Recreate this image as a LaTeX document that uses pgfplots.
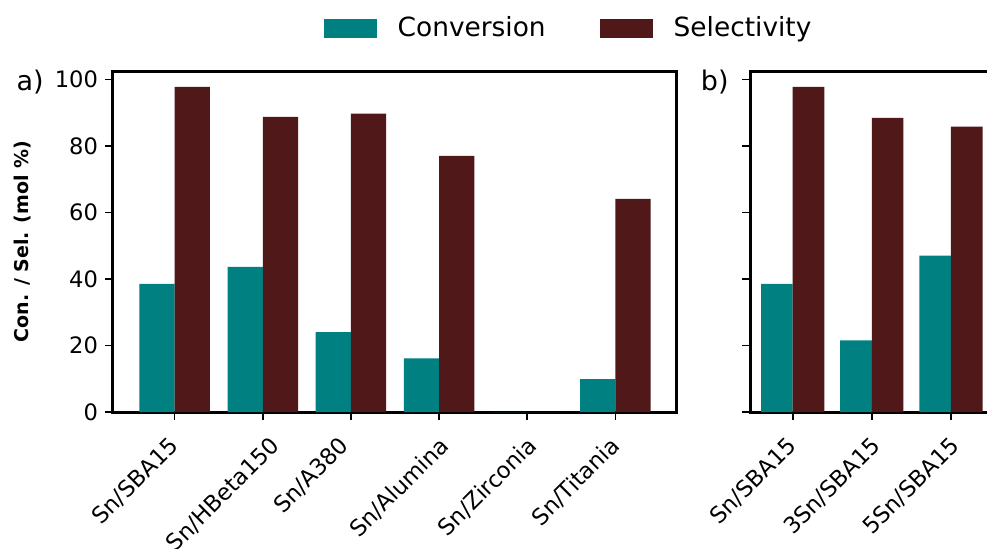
\documentclass[border=0pt]{standalone}
\usepackage{fontspec}
\setmainfont{DejaVu Sans}
\usepackage{graphicx}
\usepackage{pgfplots}
\usepackage{pgfplotstable}
\pgfplotsset{compat=1.18}

\definecolor{conv}{HTML}{008080}
\definecolor{sel}{HTML}{501818}

% Panel a: tin on different supports
\pgfplotstableread{
x conv sel
0 38.5 97.7
1 43.6 88.7
2 24.0 89.7
3 16.1 77.0
4 0.0 0.0
5 9.9 64.1
}\supports

% Panel b: tin loading on SBA15
\pgfplotstableread{
x conv sel
0 38.5 97.7
1 21.5 88.4
2 47.0 85.8
}\loading

% rotated category label, boxed so that its frame is the rotated box
\newcommand{\rl}[1]{\rotatebox{45}{\strut #1}}

\pgfplotsset{
  panel/.style={
    scale only axis,
    height=170.5pt,
    ymin=0, ymax=102.5,
    ytick={0,20,40,60,80,100},
    axis line style={line width=1.5pt},
    tick style={line width=0.8pt, black},
    tick align=outside,
    major tick length=4pt,
    xtick pos=bottom, ytick pos=left,
    xtick=data,
    tick label style={font=\fontsize{11.3}{13}\selectfont},
    /pgf/number format/assume math mode=true,
    xticklabel style={anchor=north, inner sep=0pt, xshift=-19pt, yshift=-7pt},
    bar width=0.4,
    clip=false,
  },
  convbar/.style={ybar, bar shift=-0.2, fill=conv, draw=none},
  selbar/.style={ybar, bar shift=0.2, fill=sel, draw=none},
}

\begin{document}
\begin{tikzpicture}
\begin{axis}[panel,
  at={(56.5pt,-206pt)}, anchor=south west,
  width=282pt,
  xmin=-0.7, xmax=5.7,
  xticklabels={{\rl{Sn/SBA15}},{\rl{Sn/HBeta150}},{\rl{Sn/A380}},{\rl{Sn/Alumina}},{\rl{Sn/Zirconia}},{\rl{Sn/Titania}}},
  ylabel={\bfseries Con. / Sel. (mol \%)},
  ylabel style={font=\fontsize{9.5}{11}\selectfont, at={(axis description cs:-0.161,0.5)}, anchor=center},
  legend columns=2,
  legend style={at={(axis description cs:0.806,1.126)}, anchor=center, draw=none,
    font=\fontsize{13.2}{15}\selectfont,
    nodes={inner sep=0pt},
    /tikz/every odd column/.append style={column sep=10.5pt},
    /tikz/every even column/.append style={column sep=27pt}},
  legend image code/.code={\fill[#1] (0pt,-4.75pt) rectangle (26.5pt,4.75pt);},
]
\addplot[convbar] table[x=x, y=conv] {\supports};
\addlegendentry{Conversion}
\addplot[selbar] table[x=x, y=sel] {\supports};
\addlegendentry{Selectivity}
\node[font=\fontsize{13.5}{15}\selectfont, anchor=base east, inner sep=0pt] at (axis description cs:-0.1223,0.944) {a)};
\end{axis}

\begin{axis}[panel,
  at={(375pt,-206pt)}, anchor=south west,
  width=124.2pt,
  xmin=-0.54, xmax=2.6,
  xticklabels={{\rl{Sn/SBA15}},{\rl{3Sn/SBA15}},{\rl{5Sn/SBA15}}},
  yticklabels={},
]
\addplot[convbar] table[x=x, y=conv] {\loading};
\addplot[selbar] table[x=x, y=sel] {\loading};
\node[font=\fontsize{13.5}{15}\selectfont, anchor=base east, inner sep=0pt] at (axis description cs:-0.0845,0.944) {b)};
\end{axis}

\pgfresetboundingbox
\useasboundingbox (0pt,0pt) rectangle (493.5pt,-274pt);
\end{tikzpicture}
\end{document}
